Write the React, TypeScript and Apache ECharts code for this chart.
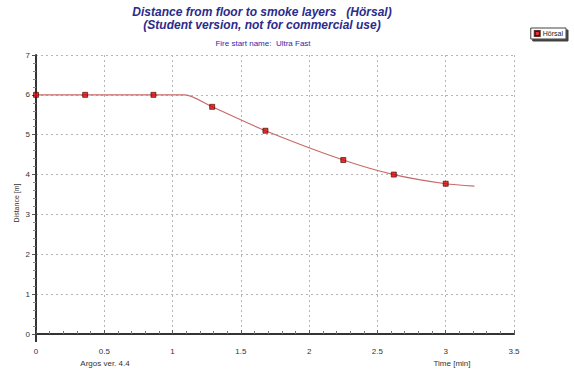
import React, { useEffect, useRef } from "react";
import * as echarts from "echarts";

const seriesName = "Hörsal";
const curveX = [0, 1.09, 1.29, 1.68, 2.25, 2.62, 3.0, 3.21];
const curveY = [6, 6, 5.7, 5.1, 4.365, 4.0, 3.77, 3.71];
const markerX = [0, 0.36, 0.86, 1.29, 1.68, 2.25, 2.62, 3.0];
const markerY = [6, 6, 6, 5.7, 5.1, 4.365, 4.0, 3.77];
const titleLine1 = "Distance from floor to smoke layers   (Hörsal)";
const titleLine2 = "(Student version, not for commercial use)";
const subTitle = "Fire start name:  Ultra Fast";
const yName = "Distance [m]";
const xName = "Time [min]";
const footer = "Argos ver. 4.4";

const FONT = "'Liberation Sans', Arial, sans-serif";

export default function App() {
  const ref = useRef<HTMLDivElement>(null);
  useEffect(() => {
    if (!ref.current) return;
    const chart = echarts.init(ref.current, null, { renderer: "svg" });
    const curve = curveX.map((x, i) => [x, curveY[i]]);
    const markers = markerX.map((x, i) => [x, markerY[i]]);
    chart.setOption({
      animation: false,
      backgroundColor: "#ffffff",
      textStyle: { fontFamily: FONT },
      grid: { left: 36, right: 60, top: 55, bottom: 38, containLabel: false },
      xAxis: {
        type: "value",
        min: 0,
        max: 3.5,
        interval: 0.5,
        offset: 7,
        axisLine: { show: true, lineStyle: { color: "#333", width: 2 } },
        axisTick: { show: true, inside: true, length: 4, lineStyle: { color: "#555" } },
        minorTick: { show: true, splitNumber: 5, length: 3, lineStyle: { color: "#777" } },
        axisLabel: { color: "#333", fontSize: 8, margin: 6, fontFamily: FONT },
        splitLine: { show: true, lineStyle: { color: "#b5b5b5", type: [2, 3], width: 1 } },
      },
      yAxis: {
        type: "value",
        min: 0,
        max: 7,
        interval: 1,
        axisLine: { show: true, lineStyle: { color: "#333", width: 2 } },
        axisTick: { show: true, inside: false, length: 4, lineStyle: { color: "#555" } },
        minorTick: { show: true, splitNumber: 5, length: 3, lineStyle: { color: "#888" } },
        axisLabel: { color: "#333", fontSize: 8, margin: 6, fontFamily: FONT },
        splitLine: { show: true, lineStyle: { color: "#b5b5b5", type: [2, 3], width: 1 } },
      },
      legend: {
        data: [seriesName],
        right: 8,
        top: 28,
        orient: "vertical",
        icon: "rect",
        itemWidth: 5,
        itemHeight: 5,
        itemGap: 2,
        padding: [2, 3, 2, 3],
        borderColor: "#444",
        borderWidth: 1,
        backgroundColor: "#fff",
        shadowColor: "rgba(0,0,0,0.75)",
        shadowOffsetX: 2,
        shadowOffsetY: 2,
        shadowBlur: 0,
        textStyle: { fontSize: 7, color: "#222", fontFamily: FONT, padding: [0, 0, 0, -2] },
      },
      graphic: [
        {
          type: "text",
          x: 262,
          y: 12,
          style: {
            text: titleLine1,
            font: `italic bold 12px ${FONT}`,
            fill: "#2b2b8a",
            textAlign: "center",
            textVerticalAlign: "middle",
          },
        },
        {
          type: "text",
          x: 262,
          y: 25,
          style: {
            text: titleLine2,
            font: `italic bold 12px ${FONT}`,
            fill: "#2b2b8a",
            textAlign: "center",
            textVerticalAlign: "middle",
          },
        },
        {
          type: "text",
          x: 263,
          y: 43,
          style: {
            text: subTitle,
            font: `8px ${FONT}`,
            fill: "#2b2bb0",
            textAlign: "center",
            textVerticalAlign: "middle",
          },
        },
        {
          type: "text",
          x: 16,
          y: 203,
          rotation: Math.PI / 2,
          style: {
            text: yName,
            font: `7px ${FONT}`,
            fill: "#333",
            textAlign: "center",
            textVerticalAlign: "middle",
          },
        },
        {
          type: "text",
          x: 105,
          y: 363,
          style: {
            text: footer,
            font: `8px ${FONT}`,
            fill: "#333",
            textAlign: "center",
            textVerticalAlign: "middle",
          },
        },
        {
          type: "text",
          x: 452,
          y: 363,
          style: {
            text: xName,
            font: `8px ${FONT}`,
            fill: "#333",
            textAlign: "center",
            textVerticalAlign: "middle",
          },
        },
        {
          type: "line",
          shape: { x1: 36, y1: 333, x2: 36, y2: 342 },
          style: { stroke: "#333", lineWidth: 2 },
        },
      ],
      series: [
        {
          name: "curve",
          type: "line",
          data: curve,
          smooth: 0.25,
          showSymbol: false,
          symbol: "none",
          lineStyle: { color: "#c86a6a", width: 1.2 },
          silent: true,
          z: 2,
        },
        {
          name: seriesName,
          type: "scatter",
          data: markers,
          symbol: "rect",
          symbolSize: 5,
          itemStyle: { color: "#e00000", borderColor: "#3a0000", borderWidth: 0.8 },
          z: 3,
        },
      ],
    });
    return () => chart.dispose();
  }, []);
  return (
    <div
      ref={ref}
      style={{ position: "fixed", left: 0, top: 0, width: 574, height: 372 }}
    />
  );
}
